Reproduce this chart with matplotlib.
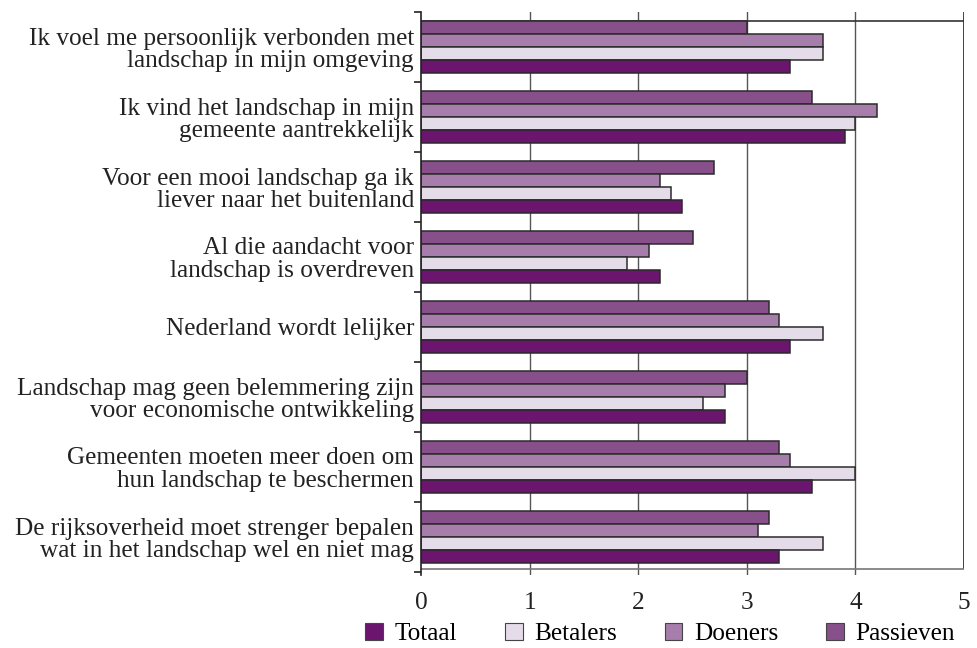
import matplotlib
matplotlib.use("Agg")
import matplotlib.pyplot as plt
from matplotlib.patches import Patch
import numpy as np

categories = [
    "Ik voel me persoonlijk verbonden met\nlandschap in mijn omgeving",
    "Ik vind het landschap in mijn\ngemeente aantrekkelijk",
    "Voor een mooi landschap ga ik\nliever naar het buitenland",
    "Al die aandacht voor\nlandschap is overdreven",
    "Nederland wordt lelijker",
    "Landschap mag geen belemmering zijn\nvoor economische ontwikkeling",
    "Gemeenten moeten meer doen om\nhun landschap te beschermen",
    "De rijksoverheid moet strenger bepalen\nwat in het landschap wel en niet mag",
]
series_names = ["Totaal", "Betalers", "Doeners", "Passieven"]
totaal = [3.4, 3.9, 2.4, 2.2, 3.4, 2.8, 3.6, 3.3]
betalers = [3.7, 4.0, 2.3, 1.9, 3.7, 2.6, 4.0, 3.7]
doeners = [3.7, 4.2, 2.2, 2.1, 3.3, 2.8, 3.4, 3.1]
passieven = [3.0, 3.6, 2.7, 2.5, 3.2, 3.0, 3.3, 3.2]
x_ticks = [0, 1, 2, 3, 4, 5]

colors = {"Totaal": "#6B156F", "Betalers": "#E4DCE9",
          "Doeners": "#A67DAB", "Passieven": "#87508B"}
edge = "#2b2b2b"

plt.rcParams['font.family'] = ['Liberation Serif', 'DejaVu Serif']

W, H = 978, 648
fig = plt.figure(figsize=(W / 100, H / 100), dpi=100)
left, right, top, bottom = 421, 964, 12, 575
ax = fig.add_axes([left / W, 1 - bottom / H, (right - left) / W, (bottom - top) / H])

n = len(categories)
ymax = (bottom - top) / 70.0
ax.set_xlim(0, 5)
ax.set_ylim(ymax, 0)

bh = 13 / 70.0
off0 = 9 / 70.0
order = [("Passieven", passieven), ("Doeners", doeners),
         ("Betalers", betalers), ("Totaal", totaal)]
idx = np.arange(n)
for k, (name, vals) in enumerate(order):
    ys = idx + off0 + bh * (k + 0.5)
    ax.barh(ys, vals, height=bh, color=colors[name], edgecolor=edge,
            linewidth=1.1, zorder=3)

# grid and frame lines
for gx in [1, 2, 3, 4]:
    ax.axvline(gx, color="#555555", lw=1.0, zorder=1)
ax.vlines(5, 0, (569 - top) / 70.0, color="#222222", lw=1.2, zorder=1)
ax.hlines((21 - top) / 70.0, 0, 5, color="#333333", lw=1.2, zorder=2)
ax.hlines((569 - top) / 70.0, 0, 5, color="#777777", lw=1.2, zorder=2)

for s in ["top", "right", "bottom"]:
    ax.spines[s].set_visible(False)
ax.spines["left"].set_color("#222222")
ax.spines["left"].set_linewidth(1.2)
ax.spines["left"].set_zorder(4)

ax.set_yticks(idx + 0.5)
ax.set_yticklabels(categories, fontsize=18.2, linespacing=1.05)
ax.tick_params(axis="y", which="major", length=0, pad=5, colors="#222222")
ax.set_yticks(np.arange(n + 1), minor=True)
ax.tick_params(axis="y", which="minor", length=5, width=1.2, color="#222222")

ax.set_xticks(x_ticks)
ax.set_xticklabels([str(t) for t in x_ticks], fontsize=18.2)
ax.tick_params(axis="x", length=0, pad=12, colors="#222222")

handles = [Patch(facecolor=colors[s], edgecolor="#444444", linewidth=0.8) for s in series_names]
fig.legend(handles, series_names, loc="center", ncol=4, frameon=False,
           bbox_to_anchor=(660 / W, 1 - 634 / H), fontsize=18.2,
           handlelength=0.7, handleheight=0.7, handletextpad=0.45,
           columnspacing=1.9, borderpad=0.0)

fig.savefig("out.png", dpi=100)
